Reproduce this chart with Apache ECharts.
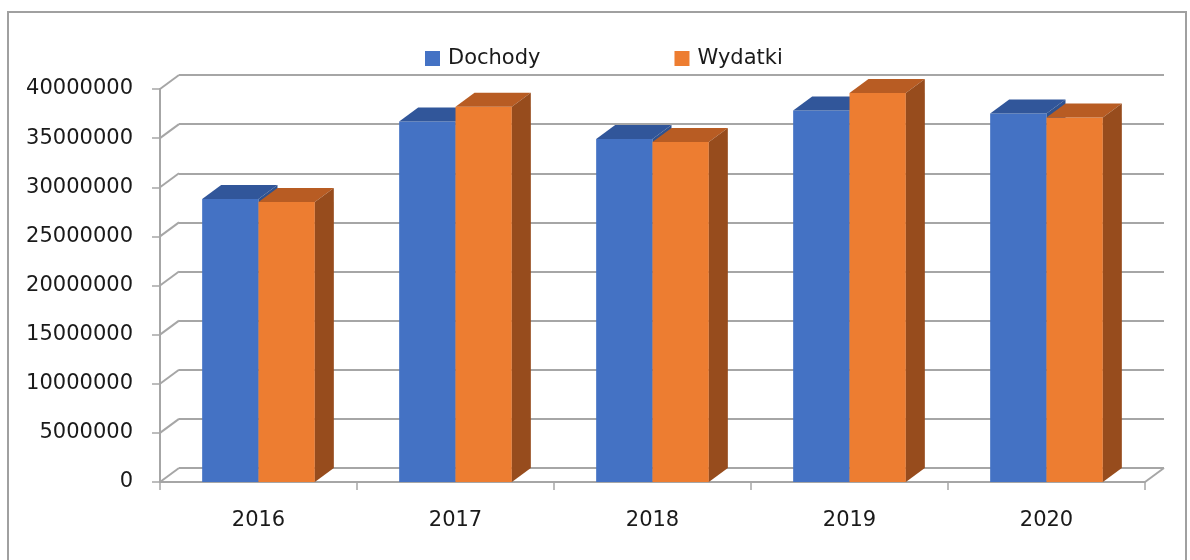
<!DOCTYPE html>
<html>
<head>
<meta charset="utf-8">
<script src="https://cdn.jsdelivr.net/npm/echarts@6/dist/echarts.min.js"></script>
<style>
  html, body { margin: 0; padding: 0; background: #fff; }
  #chart { width: 1190px; height: 560px; }
</style>
</head>
<body>
<div id="chart"></div>
<script>
// data
var years = ['2016', '2017', '2018', '2019', '2020'];
var dochody = [28800000, 36700000, 34900000, 37800000, 37500000];
var wydatki = [28500000, 38200000, 34600000, 39600000, 37100000];
var yTicks = [0, 5000000, 10000000, 15000000, 20000000, 25000000, 30000000, 35000000, 40000000];

// depth of the fake 3d
var DX = 19;
var DY = -14;
var BAR_RATIO = 0.286;
var FONT = 'DejaVu Sans';
var GRID_COLOR = '#a6a6a6';

var colors = {
  Dochody: { front: '#4472C4', top: '#31569A', side: '#2F528F' },
  Wydatki: { front: '#ED7D31', top: '#B85C23', side: '#974C1D' }
};

function barRender(side, c) {
  return function (params, api) {
    var top = api.coord([api.value(0), api.value(1)]);
    var base = api.coord([api.value(0), 0]);
    var w = api.size([1, 0])[0] * BAR_RATIO;
    var x0 = side === 0 ? top[0] - w : top[0];
    var x1 = x0 + w;
    var yT = top[1], yB = base[1];
    return {
      type: 'group',
      children: [
        { type: 'polygon', shape: { points: [[x0, yB], [x1, yB], [x1, yT], [x0, yT]] }, style: { fill: c.front } },
        { type: 'polygon', shape: { points: [[x0, yT], [x1, yT], [x1 + DX, yT + DY], [x0 + DX, yT + DY]] }, style: { fill: c.top } },
        { type: 'polygon', shape: { points: [[x1, yB], [x1 + DX, yB + DY], [x1 + DX, yT + DY], [x1, yT]] }, style: { fill: c.side } }
      ]
    };
  };
}

function wallRender(params, api) {
  var p = api.coord([0, api.value(1)]);
  var left = params.coordSys.x;
  var right = params.coordSys.x + params.coordSys.width;
  var lineStyle = { stroke: GRID_COLOR, lineWidth: 2 };
  var kids = [
    { type: 'line', shape: { x1: left, y1: p[1], x2: left + DX, y2: p[1] + DY }, style: lineStyle }
  ];
  if (api.value(1) === 0) {
    kids.push({ type: 'line', shape: { x1: right, y1: p[1], x2: right + DX, y2: p[1] + DY }, style: lineStyle });
  }
  return { type: 'group', children: kids };
}

var chart = echarts.init(document.getElementById('chart'));

var option = {
  animation: false,
  backgroundColor: '#fff',
  graphic: [
    {
      type: 'rect',
      shape: { x: 8, y: 12, width: 1178, height: 600 },
      style: { fill: 'none', stroke: '#a0a0a0', lineWidth: 2 },
      silent: true
    }
  ],
  legend: {
    data: [
      { name: 'Dochody', itemStyle: { color: colors.Dochody.front } },
      { name: 'Wydatki', itemStyle: { color: colors.Wydatki.front } }
    ],
    left: 425,
    top: 48,
    icon: 'rect',
    itemWidth: 15,
    itemHeight: 15,
    itemGap: 134,
    padding: 0,
    textStyle: { fontFamily: FONT, fontSize: 21, color: '#1a1a1a', padding: [0, 0, 0, 3] }
  },
  grid: [
    { left: 160, right: 45, top: 89, bottom: 78 },
    { left: 179, right: 26, top: 75, bottom: 92 }
  ],
  xAxis: [
    {
      type: 'category',
      gridIndex: 0,
      data: years,
      boundaryGap: true,
      axisLine: { show: true, lineStyle: { color: GRID_COLOR, width: 2 } },
      axisTick: { show: true, length: 8, lineStyle: { color: GRID_COLOR, width: 1.5 } },
      axisLabel: { margin: 28, fontFamily: FONT, fontSize: 21, color: '#1a1a1a' },
      splitLine: { show: false }
    },
    {
      type: 'category',
      gridIndex: 1,
      data: years,
      show: false
    }
  ],
  yAxis: [
    {
      type: 'value',
      gridIndex: 0,
      min: yTicks[0],
      max: yTicks[yTicks.length - 1],
      interval: yTicks[1] - yTicks[0],
      axisLine: { show: true, lineStyle: { color: GRID_COLOR, width: 2 } },
      axisTick: { show: true, length: 8, lineStyle: { color: GRID_COLOR, width: 1.5 } },
      axisLabel: {
        margin: 27,
        fontFamily: FONT,
        fontSize: 21,
        color: '#1a1a1a',
        formatter: function (v) { return String(v); }
      },
      splitLine: { show: false }
    },
    {
      type: 'value',
      gridIndex: 1,
      min: yTicks[0],
      max: yTicks[yTicks.length - 1],
      interval: yTicks[1] - yTicks[0],
      axisLine: { show: false },
      axisTick: { show: false },
      axisLabel: { show: false },
      splitLine: { show: true, lineStyle: { color: GRID_COLOR, width: 2 } }
    }
  ],
  series: [
    {
      name: 'walls',
      type: 'custom',
      xAxisIndex: 0,
      yAxisIndex: 0,
      z: 1,
      silent: true,
      data: yTicks.map(function (v) { return [0, v]; }),
      renderItem: wallRender
    },
    {
      name: 'Dochody',
      type: 'custom',
      xAxisIndex: 0,
      yAxisIndex: 0,
      z: 2,
      itemStyle: { color: colors.Dochody.front },
      data: dochody.map(function (v, i) { return [i, v]; }),
      renderItem: barRender(0, colors.Dochody)
    },
    {
      name: 'Wydatki',
      type: 'custom',
      xAxisIndex: 0,
      yAxisIndex: 0,
      z: 3,
      itemStyle: { color: colors.Wydatki.front },
      data: wydatki.map(function (v, i) { return [i, v]; }),
      renderItem: barRender(1, colors.Wydatki)
    }
  ]
};

chart.setOption(option);
</script>
</body>
</html>
